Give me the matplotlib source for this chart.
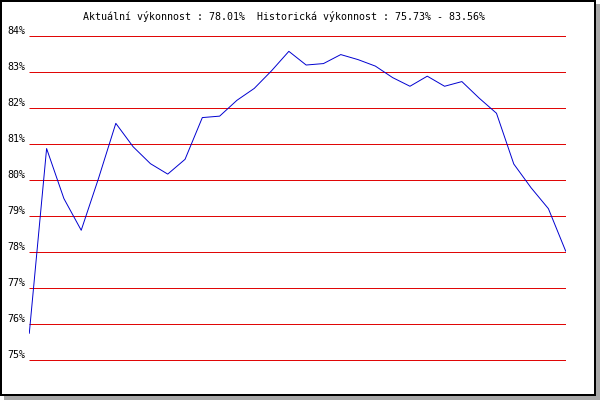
import matplotlib
matplotlib.use('Agg')
import matplotlib.pyplot as plt
from matplotlib.patches import Rectangle
import numpy as np

# vykonnost v procentech, 32 mereni
vykon = [75.73, 80.86, 79.47, 78.59, 80.03, 81.56, 80.91, 80.44,
         80.15, 80.56, 81.72, 81.76, 82.20, 82.53, 83.02, 83.56,
         83.18, 83.22, 83.47, 83.33, 83.15, 82.83, 82.59, 82.87,
         82.59, 82.72, 82.26, 81.84, 80.43, 79.77, 79.19, 78.01]
y_ticks = [75, 76, 77, 78, 79, 80, 81, 82, 83, 84]
y_labels = ['%d%%' % v for v in y_ticks]
aktualni = 78.01
hist_min = 75.73
hist_max = 83.56

W, H = 600, 400
fig = plt.figure(figsize=(W / 100, H / 100), dpi=100)
fig.patch.set_facecolor('white')

def px_rect(x0, y0, x1, y1, color):
    # souradnice v pixelech od leveho horniho rohu
    r = Rectangle((x0 / W, 1 - y1 / H), (x1 - x0) / W, (y1 - y0) / H,
                  transform=fig.transFigure, facecolor=color,
                  edgecolor='none', zorder=0)
    fig.add_artist(r)

# stin a ramecek
px_rect(596, 4, 600, 400, '#a8a8a8')
px_rect(4, 396, 600, 400, '#a8a8a8')
px_rect(0, 0, 596, 2, 'black')
px_rect(0, 394, 596, 396, 'black')
px_rect(0, 0, 2, 396, 'black')
px_rect(594, 0, 596, 396, 'black')

# osa: 75 % na y=359.5 px, 84 % na y=35.5 px, 36 px na 1 %
ymin, ymax = 74.9, 84.1
top_px = 35.5 - (ymax - 84) * 36
bot_px = 359.5 + (75 - ymin) * 36
x0_px, x1_px = 29.3, 565.7
ax = fig.add_axes([x0_px / W, 1 - bot_px / H, (x1_px - x0_px) / W,
                   (bot_px - top_px) / H])
ax.set_facecolor('none')
x = np.arange(len(vykon))
ax.set_xlim(0, len(vykon) - 1)
ax.set_ylim(ymin, ymax)
for s in ax.spines.values():
    s.set_visible(False)
ax.set_xticks([])
ax.hlines(y_ticks, 0, len(vykon) - 1, colors='#e00000', linewidth=0.7,
          zorder=1)
ax.plot(x, vykon, color='#0000d0', linewidth=0.7, zorder=2)

ax.set_yticks(y_ticks)
ax.set_yticklabels(y_labels, fontfamily='DejaVu Sans Mono', fontsize=7.2,
                   va='bottom')
ax.tick_params(axis='y', length=0, pad=2.5)

titul = 'Aktuální výkonnost : %.2f%%  Historická výkonnost : %.2f%% - %.2f%%' % (
    aktualni, hist_min, hist_max)
fig.text(82.7 / W, 1 - 19.5 / H, titul, fontfamily='DejaVu Sans Mono',
         fontsize=7.2, ha='left', va='baseline')

plt.savefig('out.png', dpi=100)
